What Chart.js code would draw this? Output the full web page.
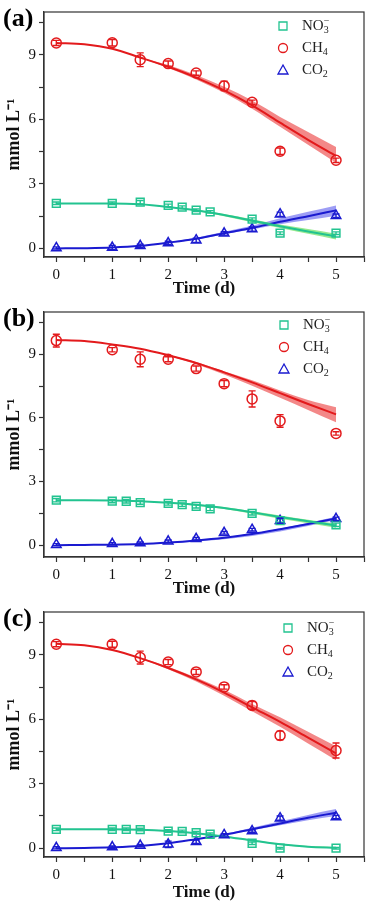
<!DOCTYPE html>
<html>
<head>
<meta charset="utf-8">
<script src="https://cdn.jsdelivr.net/npm/chart.js@4.4.1/dist/chart.umd.min.js"></script>
<style>
  html, body { margin: 0; padding: 0; background: #fff; }
  .panel { position: absolute; left: 0; width: 371px; }
</style>
</head>
<body>
<div class="panel" style="top:0;height:300px"><canvas id="chartA"></canvas></div>
<div class="panel" style="top:300px;height:300px"><canvas id="chartB"></canvas></div>
<div class="panel" style="top:600px;height:304px"><canvas id="chartC"></canvas></div>
<script>
// shared time axes and ticks
const fitTime = [0, 0.5, 1, 1.5, 2, 2.5, 3, 3.5, 4, 4.5, 5];
const gasTime = [0, 1, 1.5, 2, 2.5, 3, 3.5, 4, 5];
const nitrateTimeA = [0, 1, 1.5, 2, 2.25, 2.5, 2.75, 3.5, 4, 5];
const nitrateTimeBC = [0, 1, 1.25, 1.5, 2, 2.25, 2.5, 2.75, 3.5, 4, 5];
const xTicks = [0, 0.5, 1, 1.5, 2, 2.5, 3, 3.5, 4, 4.5, 5, 5.5];
const xLabels = [0, 1, 2, 3, 4, 5];
const yTicks = [0, 1.5, 3, 4.5, 6, 7.5, 9, 10.5];
const yLabels = [0, 3, 6, 9];

// ---- panel (a) ----
const aNo3 = [2.1, 2.1, 2.15, 2.0, 1.92, 1.78, 1.7, 1.36, 0.71, 0.71];
const aNo3Err = [0.06, 0.06, 0.08, 0.06, 0.06, 0.06, 0.06, 0.06, 0.06, 0.06];
const aCh4 = [9.56, 9.57, 8.78, 8.6, 8.16, 7.56, 6.8, 4.52, 4.1];
const aCh4Err = [0.12, 0.15, 0.32, 0.12, 0.1, 0.22, 0.1, 0.15, 0.1];
const aCo2 = [0.02, 0.04, 0.12, 0.25, 0.38, 0.7, 0.9, 1.59, 1.52];
const aCo2Err = [0.05, 0.1, 0.08, 0.08, 0.1, 0.08, 0.1, 0.1, 0.08];
const aCh4Fit = [9.56, 9.5, 9.29, 8.88, 8.45, 7.95, 7.35, 6.65, 5.85, 5.05, 4.3];
const aCh4Hi = [9.56, 9.5, 9.29, 8.9, 8.53, 8.07, 7.52, 6.88, 6.12, 5.42, 4.72];
const aCh4Lo = [9.56, 9.5, 9.29, 8.86, 8.4, 7.86, 7.24, 6.5, 5.66, 4.82, 3.98];
const aNo3Fit = [2.09, 2.09, 2.09, 2.05, 1.93, 1.77, 1.55, 1.29, 1.03, 0.79, 0.56];
const aNo3Hi = [2.09, 2.09, 2.09, 2.06, 1.95, 1.8, 1.6, 1.36, 1.11, 0.9, 0.68];
const aNo3Lo = [2.09, 2.09, 2.09, 2.04, 1.91, 1.74, 1.5, 1.22, 0.95, 0.68, 0.42];
const aCo2Fit = [0, 0.01, 0.04, 0.12, 0.27, 0.45, 0.71, 0.95, 1.24, 1.5, 1.77];
const aCo2Hi = [0, 0.01, 0.04, 0.13, 0.29, 0.49, 0.77, 1.05, 1.4, 1.7, 2.0];
const aCo2Lo = [0, 0.01, 0.04, 0.11, 0.25, 0.42, 0.66, 0.88, 1.12, 1.32, 1.52];

// ---- panel (b) ----
const bNo3 = [2.12, 2.08, 2.07, 2.01, 1.97, 1.91, 1.83, 1.71, 1.5, 1.16, 0.96];
const bNo3Err = [0.08, 0.08, 0.08, 0.08, 0.08, 0.08, 0.08, 0.08, 0.08, 0.08, 0.08];
const bCh4 = [9.65, 9.22, 8.77, 8.77, 8.33, 7.62, 6.9, 5.86, 5.27];
const bCh4Err = [0.3, 0.1, 0.35, 0.12, 0.12, 0.15, 0.38, 0.3, 0.08];
const bCo2 = [0.02, 0.06, 0.1, 0.18, 0.3, 0.58, 0.73, 1.15, 1.24];
const bCo2Err = [0.05, 0.05, 0.05, 0.06, 0.06, 0.06, 0.06, 0.12, 0.08];
const bCh4Fit = [9.68, 9.63, 9.47, 9.27, 8.96, 8.6, 8.15, 7.68, 7.17, 6.66, 6.17];
const bCh4Hi = [9.68, 9.63, 9.47, 9.27, 8.98, 8.64, 8.2, 7.78, 7.3, 6.85, 6.5];
const bCh4Lo = [9.68, 9.63, 9.47, 9.27, 8.93, 8.54, 8.05, 7.52, 6.95, 6.38, 5.8];
const bNo3Fit = [2.12, 2.12, 2.11, 2.07, 2.0, 1.9, 1.75, 1.55, 1.33, 1.13, 0.93];
const bNo3Hi = [2.12, 2.12, 2.11, 2.08, 2.02, 1.93, 1.8, 1.6, 1.4, 1.2, 1.02];
const bNo3Lo = [2.12, 2.12, 2.11, 2.06, 1.98, 1.86, 1.7, 1.48, 1.25, 1.03, 0.82];
const bCo2Fit = [0, 0.01, 0.02, 0.05, 0.12, 0.22, 0.35, 0.52, 0.75, 1.0, 1.26];
const bCo2Hi = [0, 0.01, 0.02, 0.05, 0.13, 0.24, 0.37, 0.55, 0.79, 1.05, 1.34];
const bCo2Lo = [0, 0.01, 0.02, 0.04, 0.09, 0.17, 0.28, 0.43, 0.64, 0.9, 1.18];

// ---- panel (c) ----
const cNo3 = [0.88, 0.88, 0.88, 0.87, 0.8, 0.78, 0.72, 0.65, 0.23, 0.0, 0.0];
const cNo3Err = [0.06, 0.06, 0.06, 0.06, 0.06, 0.06, 0.06, 0.06, 0.06, 0.04, 0.04];
const cCh4 = [9.5, 9.5, 8.88, 8.67, 8.21, 7.51, 6.65, 5.25, 4.55];
const cCh4Err = [0.12, 0.14, 0.3, 0.12, 0.12, 0.1, 0.18, 0.2, 0.35];
const cCo2 = [0.02, 0.05, 0.12, 0.18, 0.3, 0.62, 0.8, 1.4, 1.45];
const cCo2Err = [0.05, 0.05, 0.06, 0.15, 0.08, 0.06, 0.06, 0.1, 0.08];
const cCh4Fit = [9.52, 9.45, 9.23, 8.85, 8.39, 7.86, 7.25, 6.56, 5.88, 5.15, 4.42];
const cCh4Hi = [9.52, 9.45, 9.23, 8.87, 8.45, 7.95, 7.38, 6.72, 6.1, 5.42, 4.75];
const cCh4Lo = [9.52, 9.45, 9.23, 8.83, 8.33, 7.76, 7.1, 6.38, 5.66, 4.88, 4.1];
const cNo3Fit = [0.88, 0.88, 0.88, 0.86, 0.8, 0.7, 0.55, 0.36, 0.18, 0.07, 0.02];
const cNo3Hi = [0.88, 0.88, 0.88, 0.87, 0.82, 0.72, 0.58, 0.39, 0.21, 0.1, 0.05];
const cNo3Lo = [0.88, 0.88, 0.88, 0.85, 0.78, 0.68, 0.52, 0.33, 0.15, 0.04, 0.0];
const cCo2Fit = [0, 0.01, 0.04, 0.1, 0.23, 0.42, 0.62, 0.88, 1.15, 1.42, 1.65];
const cCo2Hi = [0, 0.01, 0.04, 0.1, 0.24, 0.44, 0.66, 0.95, 1.25, 1.55, 1.82];
const cCo2Lo = [0, 0.01, 0.04, 0.1, 0.22, 0.4, 0.6, 0.83, 1.07, 1.3, 1.5];

// colours
const RED = "#e31a1c";
const GREEN = "#22c390";
const BLUE = "#1a1ad0";
const RED_BAND = "rgba(238, 80, 80, 0.68)";
const GREEN_BAND = "rgba(110, 225, 100, 0.72)";
const BLUE_BAND = "rgba(110, 110, 240, 0.68)";
const SERIF = '"Liberation Serif", "Times New Roman", serif';

function pts(xs, ys) {
  return xs.map((x, i) => ({ x: x, y: ys[i] }));
}

// draw a small hollow marker (legend)
function marker(ctx, style, x, y, color) {
  ctx.save();
  ctx.strokeStyle = color;
  ctx.lineWidth = 1.3;
  ctx.beginPath();
  if (style === "rect") {
    ctx.rect(x - 4, y - 4, 8, 8);
  } else if (style === "circle") {
    ctx.arc(x, y, 4.5, 0, Math.PI * 2);
  } else {
    ctx.moveTo(x, y - 5);
    ctx.lineTo(x + 5, y + 4);
    ctx.lineTo(x - 5, y + 4);
    ctx.closePath();
  }
  ctx.stroke();
  ctx.restore();
}

// text with sub / superscripts
function richText(ctx, parts, x, y) {
  let cx = x;
  let lastSubX = null;
  parts.forEach((p) => {
    if (p.sup && lastSubX !== null) cx = lastSubX;
    ctx.font = (p.sub || p.sup ? 10 : 15) + "px " + SERIF;
    const dy = p.sub ? 4 : p.sup ? -5 : 0;
    if (p.sub) lastSubX = cx;
    ctx.fillText(p.t, cx, y + dy);
    cx += ctx.measureText(p.t).width;
  });
}

// frame, error bars, panel letter and legend
function decoPlugin(letter, lx, ly) {
  return {
    id: "deco",
    afterDatasetsDraw(chart) {
      const ctx = chart.ctx;
      const xs = chart.scales.x;
      const ys = chart.scales.y;
      chart.data.datasets.forEach((ds) => {
        if (!ds.errors) return;
        ctx.save();
        ctx.strokeStyle = ds.borderColor;
        ctx.lineWidth = 1.4;
        ds.data.forEach((p, i) => {
          const e = ds.errors[i];
          if (!e) return;
          const px = xs.getPixelForValue(p.x);
          const top = ys.getPixelForValue(p.y + e);
          const bot = ys.getPixelForValue(p.y - e);
          ctx.beginPath();
          ctx.moveTo(px, top); ctx.lineTo(px, bot);
          ctx.moveTo(px - 3.5, top); ctx.lineTo(px + 3.5, top);
          ctx.moveTo(px - 3.5, bot); ctx.lineTo(px + 3.5, bot);
          ctx.stroke();
        });
        ctx.restore();
      });
    },
    afterDraw(chart) {
      const ctx = chart.ctx;
      const a = chart.chartArea;
      ctx.save();
      // box
      ctx.strokeStyle = "#333";
      ctx.lineWidth = 1.2;
      ctx.strokeRect(a.left, a.top, a.right - a.left, a.bottom - a.top);
      // panel letter
      ctx.fillStyle = "#000";
      ctx.textBaseline = "alphabetic";
      ctx.font = "bold 26px " + SERIF;
      ctx.fillText(letter, 3, 26);
      // legend
      ctx.textBaseline = "middle";
      ctx.fillStyle = "#222";
      marker(ctx, "rect", lx, ly, GREEN);
      richText(ctx, [{ t: "NO" }, { t: "3", sub: true }, { t: "\u2212", sup: true }], lx + 19, ly);
      marker(ctx, "circle", lx, ly + 22, RED);
      richText(ctx, [{ t: "CH" }, { t: "4", sub: true }], lx + 19, ly + 22);
      marker(ctx, "triangle", lx, ly + 44, BLUE);
      richText(ctx, [{ t: "CO" }, { t: "2", sub: true }], lx + 19, ly + 44);
      ctx.restore();
    },
  };
}

function bandSets(hi, lo, color) {
  return [
    { data: pts(fitTime, hi), borderColor: "rgba(0,0,0,0)", borderWidth: 0, pointRadius: 0,
      fill: false, tension: 0.4, cubicInterpolationMode: "monotone", order: 3 },
    { data: pts(fitTime, lo), borderColor: "rgba(0,0,0,0)", borderWidth: 0, pointRadius: 0,
      backgroundColor: color, fill: "-1", tension: 0.4, cubicInterpolationMode: "monotone", order: 3 },
  ];
}

function fitSet(vals, color) {
  return { data: pts(fitTime, vals), borderColor: color, borderWidth: 2, pointRadius: 0,
    fill: false, cubicInterpolationMode: "monotone", order: 2 };
}

function pointSet(xs, ys, errs, style, radius, color) {
  return { data: pts(xs, ys), errors: errs, showLine: false, borderColor: color,
    pointStyle: style, pointRadius: radius, pointBorderWidth: 1.5, pointBorderColor: color,
    pointBackgroundColor: "rgba(255,255,255,0)", fill: false, order: 1 };
}

function makePanel(id, cfg) {
  const datasets = [
    ...bandSets(cfg.ch4Hi, cfg.ch4Lo, RED_BAND),
    ...bandSets(cfg.no3Hi, cfg.no3Lo, GREEN_BAND),
    ...bandSets(cfg.co2Hi, cfg.co2Lo, BLUE_BAND),
    fitSet(cfg.ch4Fit, RED),
    fitSet(cfg.no3Fit, GREEN),
    fitSet(cfg.co2Fit, BLUE),
    pointSet(cfg.no3Time, cfg.no3, cfg.no3Err, "rect", 5.5, GREEN),
    pointSet(gasTime, cfg.ch4, cfg.ch4Err, "circle", 5, RED),
    pointSet(gasTime, cfg.co2, cfg.co2Err, "triangle", 5.5, BLUE),
  ];

  return new Chart(document.getElementById(id), {
    type: "line",
    data: { datasets },
    options: {
      responsive: true,
      maintainAspectRatio: false,
      animation: false,
      events: [],
      layout: { padding: { top: cfg.padTop, right: 3, left: 0, bottom: 0 } },
      plugins: { legend: { display: false }, tooltip: { enabled: false } },
      scales: {
        x: {
          type: "linear",
          min: -0.22,
          max: 5.5,
          afterBuildTicks: (s) => { s.ticks = xTicks.map((v) => ({ value: v })); },
          afterFit: (s) => { s.height = cfg.xAxisH; },
          ticks: {
            autoSkip: false, maxRotation: 0, padding: 4, color: "#111",
            font: { family: SERIF, size: 15 },
            callback: (v) => (xLabels.includes(v) ? String(v) : ""),
          },
          grid: { drawOnChartArea: false, tickLength: 5, tickColor: "#333", tickWidth: 1.2 },
          border: { color: "#333", width: 1.2 },
          title: {
            display: true, text: "Time (d)", color: "#111",
            font: { family: SERIF, size: 17, weight: "bold" },
            padding: { top: 0, bottom: 1 },
          },
        },
        y: {
          min: cfg.yMin,
          max: 11,
          afterBuildTicks: (s) => { s.ticks = yTicks.map((v) => ({ value: v })); },
          afterFit: (s) => { s.width = 44; },
          ticks: {
            autoSkip: false, padding: 3, color: "#111",
            font: { family: SERIF, size: 15 },
            callback: (v) => (yLabels.includes(v) ? String(v) : ""),
          },
          grid: { drawOnChartArea: false, tickLength: 5, tickColor: "#333", tickWidth: 1.2 },
          border: { color: "#333", width: 1.2 },
          title: {
            display: true, text: "mmol L\u207B\u00B9", color: "#111",
            font: { family: SERIF, size: 18, weight: "bold" },
            padding: { top: 4, bottom: 0 },
          },
        },
      },
    },
    plugins: [decoPlugin(cfg.letter, cfg.legendX, cfg.legendY)],
  });
}

makePanel("chartA", {
  letter: "(a)", padTop: 10, xAxisH: 43, yMin: -0.4, legendX: 283, legendY: 26,
  no3Time: nitrateTimeA, no3: aNo3, no3Err: aNo3Err, ch4: aCh4, ch4Err: aCh4Err, co2: aCo2, co2Err: aCo2Err,
  ch4Fit: aCh4Fit, ch4Hi: aCh4Hi, ch4Lo: aCh4Lo, no3Fit: aNo3Fit, no3Hi: aNo3Hi, no3Lo: aNo3Lo,
  co2Fit: aCo2Fit, co2Hi: aCo2Hi, co2Lo: aCo2Lo,
});

makePanel("chartB", {
  letter: "(b)", padTop: 7, xAxisH: 43, yMin: -0.56, legendX: 284, legendY: 25,
  no3Time: nitrateTimeBC, no3: bNo3, no3Err: bNo3Err, ch4: bCh4, ch4Err: bCh4Err, co2: bCo2, co2Err: bCo2Err,
  ch4Fit: bCh4Fit, ch4Hi: bCh4Hi, ch4Lo: bCh4Lo, no3Fit: bNo3Fit, no3Hi: bNo3Hi, no3Lo: bNo3Lo,
  co2Fit: bCo2Fit, co2Hi: bCo2Hi, co2Lo: bCo2Lo,
});

makePanel("chartC", {
  letter: "(c)", padTop: 10, xAxisH: 47, yMin: -0.41, legendX: 288, legendY: 28,
  no3Time: nitrateTimeBC, no3: cNo3, no3Err: cNo3Err, ch4: cCh4, ch4Err: cCh4Err, co2: cCo2, co2Err: cCo2Err,
  ch4Fit: cCh4Fit, ch4Hi: cCh4Hi, ch4Lo: cCh4Lo, no3Fit: cNo3Fit, no3Hi: cNo3Hi, no3Lo: cNo3Lo,
  co2Fit: cCo2Fit, co2Hi: cCo2Hi, co2Lo: cCo2Lo,
});
</script>
</body>
</html>
